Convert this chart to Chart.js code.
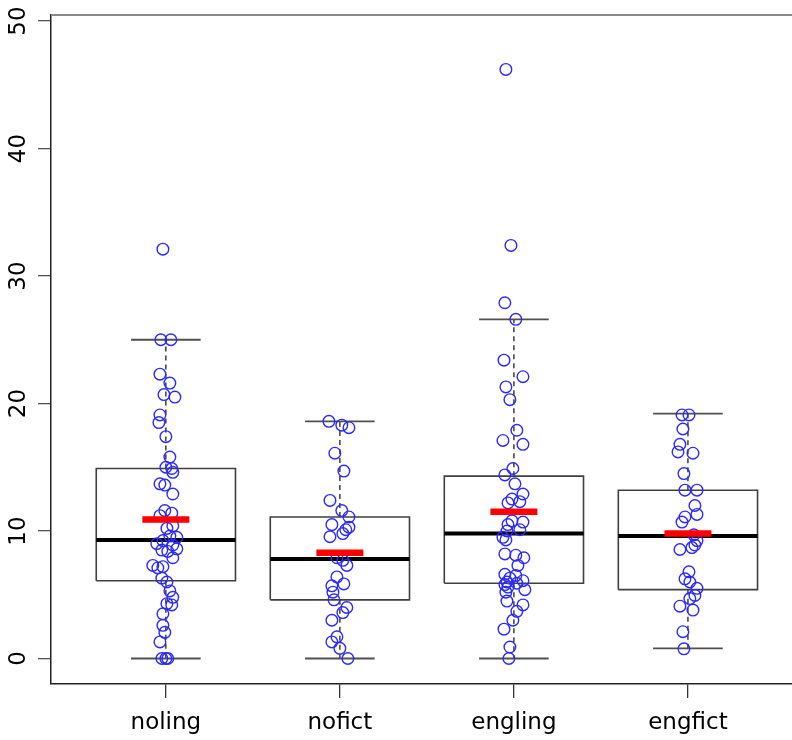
<!DOCTYPE html>
<html><head><meta charset="utf-8">
<script src="https://cdn.jsdelivr.net/npm/chart.js@4/dist/chart.umd.min.js"></script>
<style>html,body{margin:0;padding:0;background:#fff}#wrap{width:792px;height:740px}</style>
</head><body><div id="wrap"><canvas id="c" width="792" height="740"></canvas></div>
<script>
// ---- data ----
const categories = ['noling', 'nofict', 'engling', 'engfict'];
const yTickValues = [0, 10, 20, 30, 40, 50];

const boxQ1 = [6.1, 4.6, 5.9, 5.4];
const boxMedian = [9.3, 7.8, 9.8, 9.6];
const boxQ3 = [14.9, 11.1, 14.3, 13.2];
const whiskerLow = [0, 0, 0, 0.8];
const whiskerHigh = [25.0, 18.6, 26.6, 19.2];
const groupMeans = [10.9, 8.3, 11.5, 9.8];

const nolingValues = [32.1, 25.0, 25.0, 22.3, 21.6, 20.7, 20.5, 19.1, 18.5, 17.4, 15.8, 15.0, 14.9, 14.6, 13.7, 13.6, 12.9, 11.6, 11.4, 11.2, 10.4, 10.2, 9.6, 9.5, 9.25, 9.0, 8.9, 8.6, 8.5, 8.4, 7.9, 7.3, 7.1, 7.2, 6.3, 6.0, 5.3, 4.8, 4.3, 4.2, 3.5, 2.6, 2.05, 1.3, 0, 0, 0];
const nolingJitter = [-0.017, -0.029, 0.029, -0.034, 0.023, -0.011, 0.052, -0.034, -0.04, 0, 0.023, 0, 0.034, 0.04, -0.034, -0.006, 0.04, -0.006, 0.034, -0.034, 0.04, 0.006, 0.023, 0.063, -0.017, -0.052, 0.04, 0.063, -0.023, 0.011, 0.04, -0.075, -0.046, -0.017, -0.023, 0.006, 0.023, 0.04, 0.006, 0.034, -0.017, -0.017, -0.006, -0.034, -0.023, 0.011, 0];

const nofictValues = [18.6, 18.3, 18.1, 16.1, 14.7, 12.4, 11.6, 11.1, 10.5, 10.3, 10.1, 9.8, 9.55, 7.9, 7.7, 7.3, 6.4, 5.85, 5.7, 5.2, 4.6, 4.0, 3.6, 3.0, 1.7, 1.3, 0.8, 0];
const nofictJitter = [-0.063, 0.011, 0.052, -0.029, 0.023, -0.057, 0.011, 0.052, -0.046, 0.052, 0.034, 0.017, -0.057, -0.017, 0.017, 0.04, -0.017, 0.023, -0.046, -0.04, -0.034, 0.04, 0.017, -0.046, -0.017, -0.046, 0, 0.046];

const englingValues = [46.2, 32.4, 27.9, 26.6, 23.4, 22.1, 21.3, 20.3, 17.9, 17.1, 16.8, 14.9, 14.4, 13.7, 12.9, 12.5, 12.3, 12.2, 10.8, 10.7, 10.5, 10.1, 10.0, 9.5, 9.3, 8.2, 8.1, 7.9, 7.3, 6.6, 6.5, 6.3, 6.1, 6.0, 5.9, 5.8, 5.6, 5.4, 5.2, 4.5, 4.2, 3.7, 3.0, 2.3, 0.9, 0];
const englingJitter = [-0.046, -0.017, -0.052, 0.011, -0.057, 0.052, -0.046, -0.023, 0.017, -0.063, 0.052, -0.006, -0.052, 0.006, 0.052, -0.011, 0.034, -0.034, -0.011, 0.052, -0.034, 0.034, -0.04, -0.063, -0.046, -0.052, 0.011, 0.057, 0.023, -0.052, 0.011, -0.023, 0.052, -0.04, 0.017, -0.052, -0.034, 0.063, -0.046, -0.04, 0.052, 0.017, -0.006, -0.057, -0.023, -0.029];

const engfictValues = [19.1, 19.1, 18.0, 16.8, 16.2, 16.1, 14.5, 13.2, 13.2, 12.0, 11.3, 11.1, 10.7, 9.7, 9.25, 8.9, 8.7, 8.55, 6.8, 6.25, 6.0, 5.5, 4.95, 4.7, 4.1, 3.8, 2.1, 0.76];
const engfictJitter = [-0.034, 0.006, -0.029, -0.046, -0.057, 0.029, -0.023, -0.017, 0.052, 0.04, 0.052, -0.017, -0.034, 0.034, 0.052, 0.04, 0.023, -0.046, 0.006, -0.017, 0.011, 0.052, 0.04, 0.011, -0.046, 0.029, -0.029, -0.023];

// ---- build datasets ----
const groupValues = [nolingValues, nofictValues, englingValues, engfictValues];
const groupJitter = [nolingJitter, nofictJitter, englingJitter, engfictJitter];
const BOX_HALF = 0.4, CAP_HALF = 0.2, MEAN_HALF = 0.135;
const GAP = {x: NaN, y: NaN};

const boxPts = [], medPts = [], whiskPts = [], capPts = [], meanPts = [];
categories.forEach((c, i) => {
  const x = i + 1;
  boxPts.push({x: x - BOX_HALF, y: boxQ1[i]}, {x: x + BOX_HALF, y: boxQ1[i]}, {x: x + BOX_HALF, y: boxQ3[i]}, {x: x - BOX_HALF, y: boxQ3[i]}, {x: x - BOX_HALF, y: boxQ1[i]}, GAP);
  medPts.push({x: x - BOX_HALF, y: boxMedian[i]}, {x: x + BOX_HALF, y: boxMedian[i]}, GAP);
  whiskPts.push({x: x, y: boxQ3[i]}, {x: x, y: whiskerHigh[i]}, GAP, {x: x, y: boxQ1[i]}, {x: x, y: whiskerLow[i]}, GAP);
  capPts.push({x: x - CAP_HALF, y: whiskerHigh[i]}, {x: x + CAP_HALF, y: whiskerHigh[i]}, GAP, {x: x - CAP_HALF, y: whiskerLow[i]}, {x: x + CAP_HALF, y: whiskerLow[i]}, GAP);
  meanPts.push({x: x - MEAN_HALF, y: groupMeans[i]}, {x: x + MEAN_HALF, y: groupMeans[i]}, GAP);
});
const jitterPts = [];
groupValues.forEach((vals, i) => vals.forEach((v, k) => jitterPts.push({x: i + 1 + groupJitter[i][k], y: v})));

function lineSet(data, color, width, order, dash) {
  return {type: 'scatter', data, showLine: true, spanGaps: false, borderColor: color, borderWidth: width,
    pointRadius: 0, pointHoverRadius: 0, order, borderDash: dash || [], fill: false, borderCapStyle: 'butt'};
}

const yLabelPlugin = {
  id: 'yLabels',
  afterDraw(chart) {
    const ctx = chart.ctx, ys = chart.scales.y, a = chart.chartArea;
    ctx.save();
    ctx.strokeStyle = '#8a8a8a'; ctx.lineWidth = 2;
    ctx.beginPath(); ctx.moveTo(a.left, a.top); ctx.lineTo(a.right, a.top); ctx.stroke();
    ctx.fillStyle = '#000';
    ctx.font = '23px "DejaVu Sans"';
    ctx.textAlign = 'center'; ctx.textBaseline = 'middle';
    yTickValues.forEach(v => {
      const y = ys.getPixelForValue(v);
      ctx.save(); ctx.translate(19, y); ctx.rotate(-Math.PI / 2);
      ctx.fillText(String(v), 0, 0); ctx.restore();
    });
    ctx.restore();
  }
};

new Chart(document.getElementById('c'), {
  type: 'scatter',
  data: {datasets: [
    lineSet(meanPts, '#ff0000', 6.5, 0),
    {type: 'scatter', data: jitterPts, pointRadius: 5.8, pointHoverRadius: 5.8, pointBorderWidth: 1.4,
      borderColor: '#2a2aff', backgroundColor: 'rgba(0,0,0,0)', showLine: false, order: 1},
    lineSet(medPts, '#000000', 4, 2),
    lineSet(boxPts, '#404040', 1.6, 3),
    lineSet(capPts, '#505050', 1.8, 4),
    lineSet(whiskPts, '#202020', 1.3, 5, [5, 4])
  ]},
  options: {
    responsive: false, animation: false, devicePixelRatio: 1,
    layout: {autoPadding: false, padding: {top: 15, left: 0, right: 0, bottom: 0}},
    plugins: {legend: {display: false}, tooltip: {enabled: false}},
    events: [],
    scales: {
      x: {
        type: 'linear', min: 0.34, max: 4.598,
        afterBuildTicks: s => { s.ticks = categories.map((c, i) => ({value: i + 1})); },
        afterFit: s => { s.height = 56; },
        grid: {drawOnChartArea: false, drawTicks: true, tickLength: 14, color: '#333', lineWidth: 1.3},
        border: {display: true, color: '#222', width: 1.5},
        ticks: {autoSkip: false, maxRotation: 0, minRotation: 0, padding: 11, color: '#000',
          font: {family: 'DejaVu Sans', size: 23},
          callback: v => categories[Math.round(v) - 1]}
      },
      y: {
        type: 'linear', min: -2, max: 50.47,
        afterBuildTicks: s => { s.ticks = yTickValues.map(v => ({value: v})); },
        afterFit: s => { s.width = 51; },
        grid: {drawOnChartArea: false, drawTicks: true, tickLength: 13, color: '#555', lineWidth: 1.3},
        border: {display: true, color: '#222', width: 1.5},
        ticks: {display: false}
      }
    }
  },
  plugins: [yLabelPlugin]
});
</script></body></html>
